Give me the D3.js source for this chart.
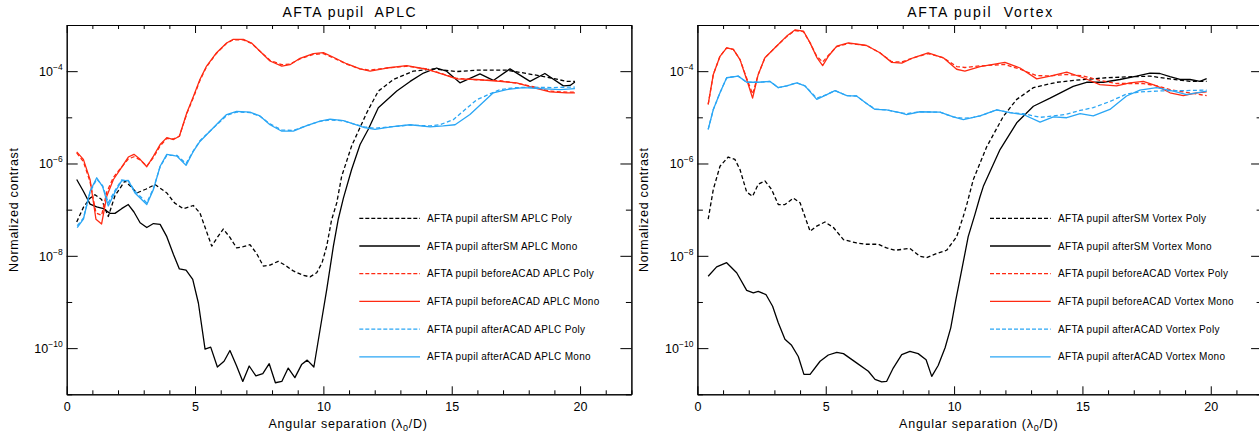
<!DOCTYPE html>
<html><head><meta charset="utf-8">
<script src="https://cdn.jsdelivr.net/npm/d3@7"></script>
<style>
body{margin:0;background:#fff}
text{font-family:"Liberation Sans",Arial,sans-serif;fill:#000}
</style>
</head><body>
<svg id="c" width="1259" height="435"></svg>
<script>
// ---------------- DATA ----------------
const xDomain = [0, 22];
const yDomain = [1e-11, 1e-3];
const xMajorTicks = [0, 5, 10, 15, 20];
const yMajorTicks = [1e-10, 1e-8, 1e-6, 1e-4];
const yMajorLabels = ["-10", "-8", "-6", "-4"];
const yMinorTicks = [1e-11, 1e-9, 1e-7, 1e-5, 1e-3];
const panelTitles = ["AFTA pupil  APLC", "AFTA pupil  Vortex"];
const xTitle = "Angular separation (";
const yTitle = "Normalized contrast";

const aplcLabels = ["AFTA pupil afterSM APLC Poly","AFTA pupil afterSM APLC Mono","AFTA pupil beforeACAD APLC Poly","AFTA pupil beforeACAD APLC Mono","AFTA pupil afterACAD APLC Poly","AFTA pupil afterACAD APLC Mono"];
const vortexLabels = ["AFTA pupil afterSM Vortex Poly","AFTA pupil afterSM Vortex Mono","AFTA pupil beforeACAD Vortex Poly","AFTA pupil beforeACAD Vortex Mono","AFTA pupil afterACAD Vortex Poly","AFTA pupil afterACAD Vortex Mono"];

// APLC panel  [separation, contrast]
const aplcAfterSMPoly = [[0.39,5.4e-8],[0.65,1.12e-7],[0.91,1.78e-7],[1.1,2.1e-7],[1.36,1.66e-7],[1.62,7.1e-8],[1.88,2.0e-7],[2.27,4.2e-7],[2.5,3.16e-7],[2.73,2.3e-7],[3.1,2.8e-7],[3.44,3.5e-7],[3.9,2.3e-7],[4.2,1.4e-7],[4.54,1.05e-7],[4.93,1.23e-7],[5.19,8.5e-8],[5.4,4.0e-8],[5.65,1.62e-8],[5.87,2.5e-8],[6.1,3.8e-8],[6.36,2.5e-8],[6.62,1.48e-8],[6.88,1.58e-8],[7.14,1.74e-8],[7.4,1.12e-8],[7.66,6.0e-9],[7.92,6.3e-9],[8.24,7.6e-9],[8.5,6.3e-9],[8.83,4.7e-9],[9.2,3.8e-9],[9.48,3.5e-9],[9.74,4.3e-9],[9.95,7.1e-9],[10.13,1.62e-8],[10.32,6.0e-8],[10.52,1.4e-7],[10.71,5.2e-7],[11.1,2.4e-6],[11.69,1.26e-5],[12.14,3.7e-5],[12.73,6.6e-5],[13.5,1.0e-4],[14.28,1.12e-4],[15.19,9.8e-5],[15.97,1.05e-4],[17.14,1.05e-4],[17.92,8.9e-5],[18.83,7.2e-5],[19.48,6.0e-5],[19.8,6.0e-5]];
const aplcAfterSMMono = [[0.39,4.5e-7],[0.65,2.5e-7],[0.91,1.32e-7],[1.17,1.15e-7],[1.43,1.05e-7],[1.69,8.3e-8],[1.88,8.3e-8],[2.14,1.05e-7],[2.4,1.29e-7],[2.62,8.9e-8],[2.86,5.2e-8],[3.12,4.1e-8],[3.38,5.0e-8],[3.64,4.8e-8],[3.9,2.6e-8],[4.16,1.07e-8],[4.39,5.2e-9],[4.65,4.9e-9],[4.91,3.1e-9],[5.13,9.5e-10],[5.39,9.5e-11],[5.61,1.05e-10],[5.87,3.9e-11],[6.13,5.2e-11],[6.36,8.9e-11],[6.62,4.1e-11],[6.86,1.9e-11],[7.11,4.1e-11],[7.37,2.5e-11],[7.64,2.8e-11],[7.89,4.6e-11],[8.13,1.78e-11],[8.38,1.9e-11],[8.63,3.7e-11],[8.89,2.3e-11],[9.15,4.4e-11],[9.37,5.5e-11],[9.63,3.9e-11],[9.87,2.5e-10],[10.13,1.86e-9],[10.39,1.62e-8],[10.58,6.2e-8],[10.78,1.78e-7],[11.1,7.4e-7],[11.43,2.57e-6],[11.75,5.5e-6],[12.14,1.62e-5],[12.86,3.7e-5],[13.38,6.0e-5],[13.9,9.1e-5],[14.41,1.17e-4],[14.8,1.0e-4],[15.32,5.6e-5],[16.1,8.7e-5],[16.62,6.3e-5],[17.27,1.12e-4],[18.05,6.0e-5],[18.63,8.9e-5],[19.35,4.8e-5],[19.61,4.9e-5],[19.8,5.8e-5]];
const aplcBeforePoly = [[0.39,1.7e-6],[0.65,1.1e-6],[0.91,4.0e-7],[1.14,8.5e-8],[1.36,7.5e-8],[1.56,2.4e-7],[1.82,5.0e-7],[2.08,7.6e-7],[2.4,1.25e-6],[2.62,1.4e-6],[2.86,1.2e-6],[3.12,8.8e-7],[3.38,1.35e-6],[3.64,2.4e-6],[3.9,3.5e-6],[4.16,3.4e-6],[4.39,3.9e-6],[4.68,1.2e-5],[4.94,2.7e-5],[5.19,6.3e-5],[5.45,1.25e-4],[5.84,2.45e-4],[6.23,4.0e-4],[6.49,4.8e-4],[6.88,4.75e-4],[7.2,4.0e-4],[7.53,2.7e-4],[7.92,1.72e-4],[8.38,1.38e-4],[8.7,1.42e-4],[9.09,1.85e-4],[9.61,2.3e-4],[10.0,2.4e-4],[10.39,1.95e-4],[10.9,1.42e-4],[11.43,1.12e-4],[11.82,1.05e-4],[12.47,1.17e-4],[13.25,1.28e-4],[14.02,1.12e-4],[14.67,8.6e-5],[15.19,7.0e-5],[15.97,6.5e-5],[16.88,6.2e-5],[17.53,5.5e-5],[18.18,4.6e-5],[18.83,3.7e-5],[19.48,3.5e-5],[19.8,3.5e-5]];
const aplcBeforeMono = [[0.39,1.78e-6],[0.65,1.23e-6],[0.91,4.47e-7],[1.14,6.2e-8],[1.36,4.9e-8],[1.56,1.95e-7],[1.82,4.5e-7],[2.08,7.4e-7],[2.4,1.38e-6],[2.62,1.58e-6],[2.86,1.23e-6],[3.12,8.5e-7],[3.38,1.45e-6],[3.64,2.57e-6],[3.9,3.63e-6],[4.16,3.3e-6],[4.39,3.9e-6],[4.68,1.26e-5],[4.94,2.88e-5],[5.19,6.6e-5],[5.45,1.29e-4],[5.84,2.51e-4],[6.23,4.07e-4],[6.49,4.9e-4],[6.88,4.9e-4],[7.2,4.07e-4],[7.53,2.69e-4],[7.92,1.66e-4],[8.38,1.29e-4],[8.7,1.38e-4],[9.09,1.9e-4],[9.61,2.4e-4],[10.0,2.51e-4],[10.39,2.0e-4],[10.9,1.45e-4],[11.43,1.12e-4],[11.82,1.0e-4],[12.47,1.17e-4],[13.25,1.32e-4],[14.02,1.1e-4],[14.67,8.5e-5],[15.19,6.8e-5],[15.97,6.6e-5],[16.88,6.0e-5],[17.53,5.6e-5],[18.18,4.4e-5],[18.83,3.55e-5],[19.48,3.4e-5],[19.8,3.4e-5]];
const aplcAfterPoly = [[0.41,4.5e-8],[0.65,6.5e-8],[0.91,2.4e-7],[1.17,4.6e-7],[1.4,3.3e-7],[1.62,1.4e-7],[1.88,2.6e-7],[2.14,4.4e-7],[2.4,4.2e-7],[2.66,2.5e-7],[3.12,1.4e-7],[3.38,2.9e-7],[3.64,8.5e-7],[3.9,1.5e-6],[4.29,1.5e-6],[4.65,1.0e-6],[4.94,1.9e-6],[5.19,3.1e-6],[5.58,5.0e-6],[5.97,8.0e-6],[6.23,1.1e-5],[6.62,1.3e-5],[7.14,1.27e-5],[7.53,1.05e-5],[7.92,7.2e-6],[8.38,5.3e-6],[8.83,5.2e-6],[9.35,6.6e-6],[9.87,8.2e-6],[10.26,8.8e-6],[10.78,8.4e-6],[11.17,7.2e-6],[11.6,6.2e-6],[12.01,5.8e-6],[12.7,6.3e-6],[13.38,6.8e-6],[14.16,6.5e-6],[14.54,6.9e-6],[15.06,8.9e-6],[15.97,2.4e-5],[16.88,4.0e-5],[17.5,4.4e-5],[18.2,4.5e-5],[18.9,4.4e-5],[19.5,4.5e-5],[19.8,4.5e-5]];
const aplcAfterMono = [[0.41,4.1e-8],[0.65,6.2e-8],[0.91,2.5e-7],[1.17,4.9e-7],[1.4,3.16e-7],[1.62,1.2e-7],[1.88,2.4e-7],[2.14,4.2e-7],[2.4,4.3e-7],[2.66,2.3e-7],[3.12,1.29e-7],[3.38,2.75e-7],[3.64,8.7e-7],[3.9,1.58e-6],[4.29,1.45e-6],[4.65,9.1e-7],[4.94,1.86e-6],[5.19,3.0e-6],[5.58,5.0e-6],[5.97,8.3e-6],[6.23,1.15e-5],[6.62,1.35e-5],[7.14,1.29e-5],[7.53,1.07e-5],[7.92,6.9e-6],[8.38,5.0e-6],[8.83,5.0e-6],[9.35,6.6e-6],[9.87,8.3e-6],[10.26,9.1e-6],[10.78,8.5e-6],[11.17,7.2e-6],[11.6,6.0e-6],[12.01,5.5e-6],[12.7,6.3e-6],[13.38,6.9e-6],[14.16,6.2e-6],[14.67,6.5e-6],[15.13,6.9e-6],[15.71,1.15e-5],[16.62,3.4e-5],[17.14,4.0e-5],[17.79,4.4e-5],[18.44,4.2e-5],[19.22,4.0e-5],[19.8,4.2e-5]];

// Vortex panel  [separation, contrast]
const vortexAfterSMPoly = [[0.42,6.2e-8],[0.62,2.75e-7],[0.88,8.7e-7],[1.2,1.38e-6],[1.46,1.23e-6],[1.66,7.4e-7],[1.92,2.4e-7],[2.15,1.95e-7],[2.37,3.55e-7],[2.63,4.2e-7],[2.89,2.75e-7],[3.15,1.29e-7],[3.41,1.29e-7],[3.74,1.78e-7],[4.0,1.41e-7],[4.39,3.4e-8],[4.65,4.4e-8],[4.97,5.4e-8],[5.3,4.1e-8],[5.69,2.24e-8],[6.2,1.9e-8],[6.59,1.78e-8],[7.05,1.78e-8],[7.37,1.48e-8],[7.7,1.32e-8],[8.28,1.45e-8],[8.67,9.8e-9],[8.93,9.1e-9],[9.32,1.12e-8],[9.71,1.32e-8],[10.1,2.6e-8],[10.36,7.2e-8],[10.49,1.26e-7],[10.75,4.5e-7],[11.27,2.3e-6],[11.92,1.05e-5],[12.44,2.45e-5],[13.09,4.4e-5],[14.0,5.75e-5],[15.03,6.6e-5],[15.94,7.2e-5],[16.98,7.6e-5],[17.63,7.8e-5],[18.41,6.8e-5],[19.19,6.0e-5],[19.84,6.0e-5]];
const vortexAfterSMMono = [[0.42,3.6e-9],[0.75,5.75e-9],[1.14,7.1e-9],[1.53,4.3e-9],[1.92,1.78e-9],[2.18,1.58e-9],[2.37,1.7e-9],[2.67,1.45e-9],[2.93,8.1e-10],[3.15,3.55e-10],[3.41,1.55e-10],[3.67,1.15e-10],[3.93,6.6e-11],[4.15,2.7e-11],[4.39,2.7e-11],[4.78,5.2e-11],[5.1,7.1e-11],[5.43,8.1e-11],[5.69,7.6e-11],[6.2,4.8e-11],[6.66,3.16e-11],[6.92,2.1e-11],[7.18,1.86e-11],[7.37,1.9e-11],[7.63,3.7e-11],[7.96,7.2e-11],[8.28,8.5e-11],[8.6,7.6e-11],[8.91,5.6e-11],[9.13,2.45e-11],[9.38,4.2e-11],[9.65,1.02e-10],[9.87,2.75e-10],[10.07,1.12e-9],[10.3,5.0e-9],[10.55,2.6e-8],[10.81,7.8e-8],[11.01,1.9e-7],[11.14,3.2e-7],[11.79,2.0e-6],[12.44,7.6e-6],[13.09,1.74e-5],[13.74,2.6e-5],[14.64,4.7e-5],[15.16,5.75e-5],[15.81,5.75e-5],[16.46,6.6e-5],[17.11,7.8e-5],[17.63,9.1e-5],[18.02,8.9e-5],[18.41,7.6e-5],[18.8,6.6e-5],[19.19,6.6e-5],[19.58,6.0e-5],[19.84,6.9e-5]];
const vortexBeforePoly = [[0.42,1.9e-5],[0.62,8.5e-5],[0.88,2.1e-4],[1.14,3.2e-4],[1.4,2.95e-4],[1.66,1.78e-4],[1.92,7.0e-5],[2.15,3.2e-5],[2.37,8.5e-5],[2.63,1.95e-4],[3.09,3.5e-4],[3.48,5.6e-4],[3.8,7.6e-4],[4.13,7.2e-4],[4.39,4.1e-4],[4.65,2.1e-4],[4.88,1.58e-4],[5.1,2.2e-4],[5.43,3.4e-4],[5.88,4.0e-4],[6.59,3.6e-4],[7.11,2.5e-4],[7.57,1.6e-4],[7.96,1.58e-4],[8.41,1.95e-4],[8.99,2.4e-4],[9.58,1.95e-4],[10.1,1.26e-4],[10.42,1.2e-4],[11.01,1.3e-4],[11.98,1.4e-4],[12.57,1.1e-4],[13.22,8.0e-5],[13.74,7.9e-5],[14.39,8.5e-5],[15.03,7.9e-5],[15.68,6.3e-5],[16.33,5.4e-5],[16.85,5.4e-5],[17.37,5.4e-5],[17.89,4.8e-5],[18.41,4.0e-5],[18.93,3.55e-5],[19.45,3.2e-5],[19.84,2.95e-5]];
const vortexBeforeMono = [[0.42,1.9e-5],[0.62,8.5e-5],[0.88,2.1e-4],[1.14,3.2e-4],[1.4,2.95e-4],[1.66,1.78e-4],[1.92,6.6e-5],[2.15,2.6e-5],[2.37,8.5e-5],[2.63,1.95e-4],[3.09,3.5e-4],[3.48,5.75e-4],[3.8,7.8e-4],[4.13,7.4e-4],[4.39,4.1e-4],[4.65,2.0e-4],[4.88,1.32e-4],[5.1,2.1e-4],[5.43,3.5e-4],[5.88,4.1e-4],[6.59,3.6e-4],[7.11,2.5e-4],[7.57,1.55e-4],[7.96,1.5e-4],[8.41,1.95e-4],[8.99,2.5e-4],[9.58,1.95e-4],[10.1,1.1e-4],[10.42,1.0e-4],[11.01,1.26e-4],[11.98,1.55e-4],[12.57,1.17e-4],[13.22,6.8e-5],[13.74,7.8e-5],[14.39,9.5e-5],[15.03,7.2e-5],[15.68,5.1e-5],[16.33,4.8e-5],[16.85,5.6e-5],[17.37,6.0e-5],[17.89,4.8e-5],[18.41,3.4e-5],[18.93,2.95e-5],[19.45,3.4e-5],[19.84,3.55e-5]];
const vortexAfterPoly = [[0.42,5.5e-6],[0.62,1.48e-5],[0.88,3.4e-5],[1.14,7.2e-5],[1.59,7.8e-5],[1.92,5.75e-5],[2.37,5.75e-5],[2.83,6.0e-5],[3.15,4.4e-5],[3.48,4.8e-5],[3.87,5.6e-5],[4.19,4.8e-5],[4.65,2.6e-5],[5.04,3.1e-5],[5.36,3.8e-5],[5.82,2.95e-5],[6.2,2.9e-5],[6.59,2.0e-5],[6.92,1.5e-5],[7.37,1.45e-5],[7.89,1.26e-5],[8.15,1.2e-5],[8.67,1.32e-5],[9.45,1.29e-5],[9.97,1.02e-5],[10.36,9.5e-6],[10.75,1.0e-5],[11.01,1.07e-5],[11.66,1.45e-5],[12.18,1.26e-5],[12.7,1.2e-5],[13.35,1.0e-5],[13.87,1.07e-5],[14.39,1.17e-5],[14.91,1.41e-5],[15.42,1.62e-5],[16.07,2.2e-5],[16.72,3.2e-5],[17.24,3.55e-5],[17.89,3.7e-5],[18.54,3.8e-5],[19.06,3.8e-5],[19.84,3.9e-5]];
const vortexAfterMono = [[0.42,5.5e-6],[0.62,1.48e-5],[0.88,3.4e-5],[1.14,7.2e-5],[1.59,7.8e-5],[1.92,5.75e-5],[2.37,5.75e-5],[2.83,6.0e-5],[3.15,4.4e-5],[3.48,4.8e-5],[3.87,5.6e-5],[4.19,4.8e-5],[4.65,2.45e-5],[5.04,3.1e-5],[5.36,3.8e-5],[5.82,2.95e-5],[6.2,2.9e-5],[6.59,2.0e-5],[6.92,1.48e-5],[7.37,1.45e-5],[7.89,1.26e-5],[8.15,1.15e-5],[8.67,1.32e-5],[9.45,1.29e-5],[9.97,1.02e-5],[10.36,8.9e-6],[10.75,1.0e-5],[11.01,1.07e-5],[11.66,1.45e-5],[12.18,1.26e-5],[12.7,1.15e-5],[13.35,7.9e-6],[13.87,1.02e-5],[14.39,9.8e-6],[14.91,1.2e-5],[15.42,1.07e-5],[16.07,1.48e-5],[16.72,2.9e-5],[17.24,3.9e-5],[17.89,4.4e-5],[18.54,3.7e-5],[19.06,3.1e-5],[19.84,3.7e-5]];

// ---------------- STYLE / LAYOUT ----------------
const colors = ["#000000", "#000000", "#ff2a12", "#ff2a12", "#2aa6f5", "#2aa6f5"];
const dashed = [true, false, true, false, true, false];

const svg = d3.select("#c");
const plotTop = 25, plotBottom = 394.3, plotWidth = 564.7;

const panels = [
  { left: 66.7, title: panelTitles[0], titleLen: 133, series: [aplcAfterSMPoly, aplcAfterSMMono, aplcBeforePoly, aplcBeforeMono, aplcAfterPoly, aplcAfterMono], labels: aplcLabels, legX1: 359.3, legX2: 420, legTx: 427 },
  { left: 697.4, title: panelTitles[1], titleLen: 145, series: [vortexAfterSMPoly, vortexAfterSMMono, vortexBeforePoly, vortexBeforeMono, vortexAfterPoly, vortexAfterMono], labels: vortexLabels, legX1: 990, legX2: 1050.7, legTx: 1058 }
];

panels.forEach((p, pi) => {
  const x = d3.scaleLinear().domain(xDomain).range([p.left, p.left + plotWidth]);
  const y = d3.scaleLog().domain(yDomain).range([plotBottom, plotTop]);
  const g = svg.append("g");

  const clipId = "clip" + pi;
  svg.append("clipPath").attr("id", clipId).append("rect")
    .attr("x", x(xDomain[0])).attr("y", plotTop)
    .attr("width", plotWidth).attr("height", plotBottom - plotTop);

  // axes
  const xMinor = d3.range(0, 23).filter(v => !xMajorTicks.includes(v));
  const styleAxis = sel => { sel.selectAll("path,line").attr("stroke", "#000").attr("stroke-width", 1); sel.selectAll("text").remove(); };

  g.append("g").attr("transform", `translate(0,${plotBottom})`)
    .call(d3.axisBottom(x).tickValues(xMinor).tickSize(-4).tickSizeOuter(0)).call(styleAxis);
  const xb = g.append("g").attr("transform", `translate(0,${plotBottom})`)
    .call(d3.axisBottom(x).tickValues(xMajorTicks).tickSize(-8).tickSizeOuter(0).tickPadding(8).tickFormat(d3.format("d")));
  xb.selectAll("path,line").attr("stroke", "#000");
  xb.selectAll("text").attr("font-size", 12.5).attr("font-family", "Liberation Sans, Arial, sans-serif").attr("fill", "#000");

  g.append("g").attr("transform", `translate(0,${plotTop})`)
    .call(d3.axisTop(x).tickValues(xMinor).tickSize(-4).tickSizeOuter(0)).call(styleAxis);
  g.append("g").attr("transform", `translate(0,${plotTop})`)
    .call(d3.axisTop(x).tickValues(xMajorTicks).tickSize(-8).tickSizeOuter(0)).call(styleAxis);

  g.append("g").attr("transform", `translate(${x(xDomain[0])},0)`)
    .call(d3.axisLeft(y).tickValues(yMinorTicks).tickSize(-5.5).tickSizeOuter(0)).call(styleAxis);
  g.append("g").attr("transform", `translate(${x(xDomain[0])},0)`)
    .call(d3.axisLeft(y).tickValues(yMajorTicks).tickSize(-11).tickSizeOuter(0)).call(styleAxis);
  g.append("g").attr("transform", `translate(${x(xDomain[1])},0)`)
    .call(d3.axisRight(y).tickValues(yMinorTicks).tickSize(-5.5).tickSizeOuter(0)).call(styleAxis);
  g.append("g").attr("transform", `translate(${x(xDomain[1])},0)`)
    .call(d3.axisRight(y).tickValues(yMajorTicks).tickSize(-11).tickSizeOuter(0)).call(styleAxis);

  // y tick labels with superscript exponents
  yMajorTicks.forEach((v, i) => {
    const t = g.append("text").attr("x", x(xDomain[0]) - 4).attr("y", y(v) + 5)
      .attr("text-anchor", "end").attr("font-size", 12.5);
    t.append("tspan").text("10");
    t.append("tspan").attr("dy", -6).attr("font-size", 8.5).text(yMajorLabels[i].replace("-", "\u2212"));
  });

  // titles
  g.append("text").attr("x", (x(xDomain[0]) + x(xDomain[1])) / 2).attr("y", 17)
    .attr("text-anchor", "middle").attr("font-size", 14).attr("textLength", p.titleLen)
    .attr("lengthAdjust", "spacing").style("white-space", "pre").text(p.title);

  const xt = g.append("text").attr("x", (x(xDomain[0]) + x(xDomain[1])) / 2 - 1).attr("y", 428)
    .attr("text-anchor", "middle").attr("font-size", 12.5).attr("letter-spacing", 0.75);
  xt.append("tspan").text(xTitle + "\u03bb");
  xt.append("tspan").attr("dy", 3).attr("font-size", 9).text("0");
  xt.append("tspan").attr("dy", -3).text("/D)");

  g.append("text").attr("transform", `translate(${x(xDomain[0]) - 49},210) rotate(-90)`)
    .attr("text-anchor", "middle").attr("font-size", 12.5).attr("textLength", 124)
    .attr("lengthAdjust", "spacing").text(yTitle);

  // lines
  const line = d3.line().x(d => x(d[0])).y(d => y(d[1]));
  const lg = g.append("g").attr("clip-path", `url(#${clipId})`);
  p.series.forEach((s, i) => {
    lg.append("path").datum(s).attr("d", line).attr("fill", "none")
      .attr("stroke", colors[i]).attr("stroke-width", 1.3)
      .attr("stroke-dasharray", dashed[i] ? "4,2.5" : null)
      .attr("stroke-linejoin", "round");
  });

  // legend
  p.labels.forEach((lab, i) => {
    const ly = 218.3 + i * 27.7;
    g.append("line").attr("x1", p.legX1).attr("x2", p.legX2).attr("y1", ly).attr("y2", ly)
      .attr("stroke", colors[i]).attr("stroke-width", 1.3)
      .attr("stroke-dasharray", dashed[i] ? "4,2" : null);
    g.append("text").attr("x", p.legTx).attr("y", ly + 3.5).attr("font-size", 10)
      .attr("letter-spacing", 0.3).text(lab);
  });
});
</script>
</body></html>
